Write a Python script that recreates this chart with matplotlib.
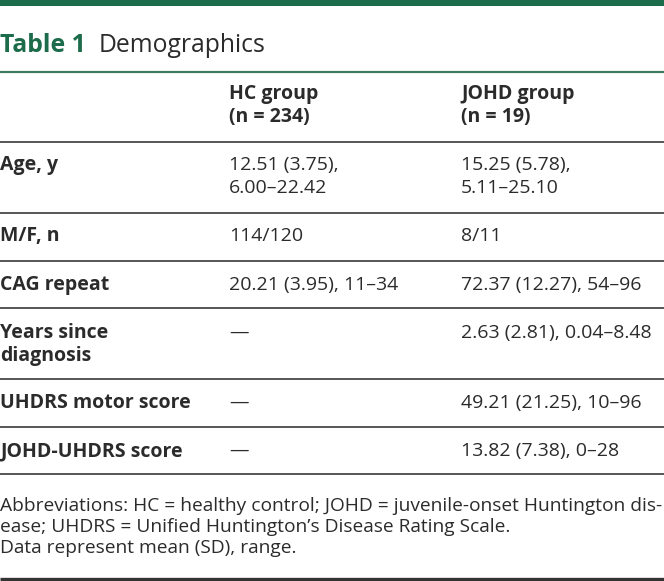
import matplotlib
matplotlib.use("Agg")
import matplotlib.pyplot as plt

plt.rcParams['font.family'] = ['Open Sans', 'DejaVu Sans']

# table content
title_num = "Table 1"
title_text = "Demographics"
col_headers = ["HC group\n(n = 234)", "JOHD group\n(n = 19)"]
row_labels = ["Age, y", "M/F, n", "CAG repeat", "Years since\ndiagnosis",
              "UHDRS motor score", "JOHD-UHDRS score"]
hc_values = ["12.51 (3.75),\n6.00–22.42", "114/120", "20.21 (3.95), 11–34",
             "—", "—", "—"]
johd_values = ["15.25 (5.78),\n5.11–25.10", "8/11", "72.37 (12.27), 54–96",
               "2.63 (2.81), 0.04–8.48", "49.21 (21.25), 10–96",
               "13.82 (7.38), 0–28"]
footnote = ["Abbreviations: HC = healthy control; JOHD = juvenile-onset Huntington dis-",
            "ease; UHDRS = Unified Huntington’s Disease Rating Scale.",
            "Data represent mean (SD), range."]

GREEN = "#1c6b4a"
TEXT = "#2b2b2b"
RULE = "#555555"

W, H = 664, 581
fig = plt.figure(figsize=(W / 100, H / 100), dpi=100)
ax = fig.add_axes([0, 0, 1, 1])
ax.set_xlim(0, W)
ax.set_ylim(H, 0)
ax.axis('off')

# top bar and title
ax.axhspan(0, 6, color=GREEN, lw=0)
ax.text(0, 52, title_num, color=GREEN, fontsize=17.8, fontweight='bold', va='baseline')
ax.text(99, 52, title_text, color=TEXT, fontsize=17.8, va='baseline')
ax.plot([0, W], [71.5, 71.5], color="#3f7d62", lw=1.6, solid_capstyle='butt')


def cell(x, y, s, bold=False, size=14, lh=23):
    for k, line in enumerate(s.split("\n")):
        ax.text(x, y + k * lh, line, fontsize=size, color=TEXT,
                fontweight='bold' if bold else 'normal', va='baseline')


col_x = [0, 229, 461]
for j, h in enumerate(col_headers):
    cell(col_x[j + 1], 99, h, bold=True)

rules = [142, 213, 261, 308, 379, 427, 474]
baselines = [170, 241, 290, 338, 408, 456]
for y in rules:
    ax.plot([0, W], [y, y], color=RULE, lw=1.4, solid_capstyle='butt')

for i, lab in enumerate(row_labels):
    b = baselines[i]
    cell(col_x[0], b, lab, bold=True)
    cell(col_x[1], b, hc_values[i])
    cell(col_x[2], b, johd_values[i])

for k, line in enumerate(footnote):
    ax.text(0, 511 + k * 21, line, fontsize=13.8, color=TEXT, va='baseline')

ax.plot([0, W], [578.5, 578.5], color="#333333", lw=2.4, solid_capstyle='butt')

fig.savefig("out.png", dpi=100)
